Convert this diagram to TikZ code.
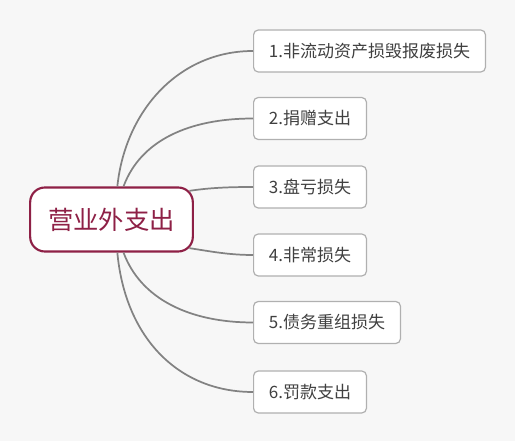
\documentclass[tikz,border=0pt]{standalone}
\usepackage{fontspec}
\setmainfont{Noto Sans CJK SC}
\definecolor{rootred}{RGB}{142,32,70}
\definecolor{leafgray}{RGB}{176,176,176}
\definecolor{linkgray}{RGB}{130,130,130}
\definecolor{paper}{RGB}{247,247,247}

\tikzset{every picture/.style={line width=0.75pt}}
\tikzset{
  rootbox/.style={draw=rootred, line width=1.6pt, rounded corners=11pt, fill=white,
    text=rootred, minimum width=122pt, minimum height=48pt, inner sep=0pt,
    font=\fontsize{19}{22}\selectfont},
  leafbox/.style={draw=leafgray, line width=0.9pt, rounded corners=3.5pt, fill=white,
    text=black!75, anchor=west, inner xsep=11.5pt, inner ysep=0pt, minimum height=31.5pt,
    font=\fontsize{12.75}{15}\selectfont},
  link/.style={draw=linkgray, line width=1.3pt}
}

\begin{document}
\begin{tikzpicture}[x=0.75pt,y=0.75pt,yscale=-1,xscale=1]
%set diagram left start at 0, and has height of 441
\fill [paper] (0,0) rectangle (515,441);
\useasboundingbox (0,0) rectangle (515,441);

%Shape: Rounded Rectangle [root]
\node [rootbox] (root) at (111.5,219.5) {营业外支出};
\coordinate (rootne) at ([shift={(-4.4,4.4)}]root.north east);
\coordinate (rootse) at ([shift={(-4.4,-4.4)}]root.south east);

%Shape: Rounded Rectangle [leaves]
\node [leafbox] (c1) at (253,51) {1.非流动资产损毁报废损失};
\node [leafbox] (c2) at (253,118.5) {2.捐赠支出};
\node [leafbox] (c3) at (253,187) {3.盘亏损失};
\node [leafbox] (c4) at (253,255) {4.非常损失};
\node [leafbox] (c5) at (253,322.5) {5.债务重组损失};
\node [leafbox] (c6) at (253,392) {6.罚款支出};

%Curves [root to leaves]
\draw [link] (root.80) .. controls ++(8,-76) and ++(-74,0) .. (c1.west) ;
\draw [link] (root.70) .. controls ++(17,-46) and ++(-64,0) .. (c2.west) ;
\draw [link] (rootne) .. controls ++(20,-3) and ++(-25,0) .. (c3.west) ;
\draw [link] (rootse) .. controls ++(20,3) and ++(-25,0) .. (c4.west) ;
\draw [link] (root.-70) .. controls ++(17,46) and ++(-64,0) .. (c5.west) ;
\draw [link] (root.-80) .. controls ++(8,86) and ++(-74,0) .. (c6.west) ;

\end{tikzpicture}
\end{document}
